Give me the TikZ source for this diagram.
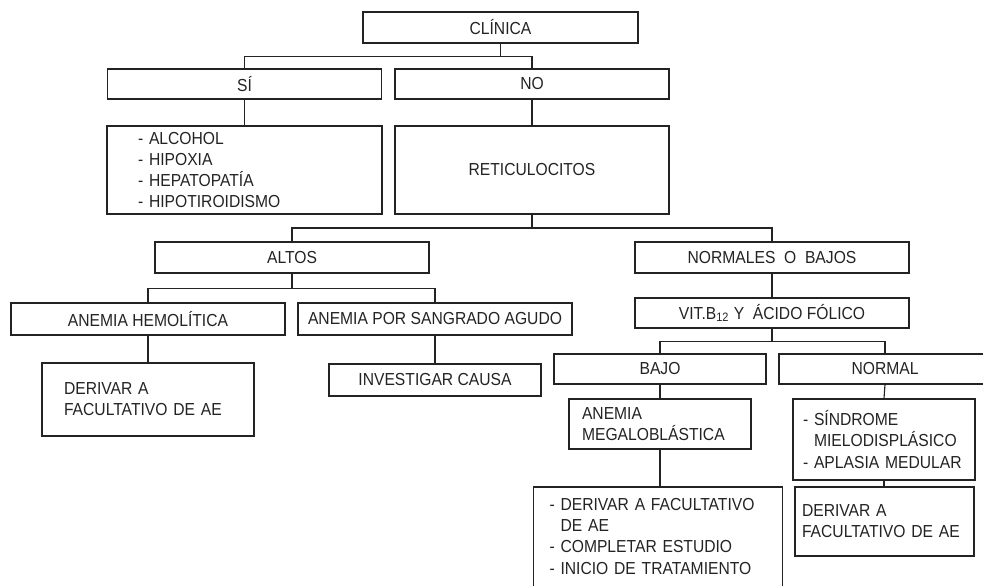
\documentclass[tikz,border=0pt]{standalone}
\usepackage{fontspec}
\setmainfont{Liberation Sans}[FakeStretch=0.9]
\usepackage{tikz}
\definecolor{LineGray}{RGB}{35,35,35}

\begin{document}
\begin{tikzpicture}[x=0.02cm, y=-0.02cm,
  font=\fontsize{9.9pt}{12pt}\selectfont,
  box/.style={draw=LineGray, line width=0.65pt, inner sep=0pt, text=LineGray},
  wide/.style={box, minimum width=5.48cm, minimum height=0.6cm},
  narrow/.style={box, minimum width=4.24cm, minimum height=0.6cm},
  listbox/.style={box, align=left},
  link/.style={draw=LineGray, line width=0.65pt}]

% Frame
\useasboundingbox (0,0) rectangle (983,585);
\clip (0,0) rectangle (983,585);

% Clinical signs
\node[wide, minimum width=5.5cm, minimum height=0.62cm] (clinica) at (500.5,27.5) {CLÍNICA};
\node[wide] (si) at (244.5,84) {SÍ};
\node[wide] (no) at (532,84) {NO};

% Causes and reticulocytes
\node[listbox, minimum height=1.76cm, text width=4.26cm, inner xsep=0.62cm] (causas) at (244.5,170) {- ALCOHOL\\- HIPOXIA\\- HEPATOPATÍA\\- HIPOTIROIDISMO};
\node[wide, minimum height=1.76cm] (reti) at (532,170) {RETICULOCITOS};

% Reticulocytes split
\node[wide, minimum height=0.62cm] (altos) at (292,257.5) {ALTOS};
\node[wide, minimum height=0.62cm] (normales) at (772,257.5) {NORMALES\ \ O\ \ BAJOS};

% High
\node[wide, minimum height=0.64cm] (hemolitica) at (148,319) {ANEMIA HEMOLÍTICA};
\node[wide, minimum height=0.64cm] (sangrado) at (435,319) {ANEMIA POR SANGRADO AGUDO};
\node[listbox, minimum height=1.46cm, text width=3.36cm, inner xsep=0.44cm] (derivarA) at (148,399.5) {DERIVAR A\\FACULTATIVO DE AE};
\node[narrow, minimum height=0.64cm] (investigar) at (435,380) {INVESTIGAR CAUSA};

% Normal or low
\node[wide] (vitamina) at (772,313) {VIT.B\textsubscript{12} Y\ \ ÁCIDO FÓLICO};
\node[narrow] (bajo) at (660,369) {BAJO};
\node[narrow] (normal) at (885,369) {NORMAL};
\node[listbox, minimum height=1cm, text width=3.12cm, inner xsep=0.26cm] (megalo) at (660,424) {ANEMIA\\MEGALOBLÁSTICA};
\node[listbox, minimum height=1.62cm, text width=3.24cm, inner xsep=0.2cm] (sindrome) at (884,439.5) {- SÍNDROME\\\hphantom{- }MIELODISPLÁSICO\\- APLASIA MEDULAR};
\node[listbox, minimum height=2.36cm, text width=4.34cm, inner xsep=0.32cm, text depth=47pt] (tratamiento) at (658,546) {- DERIVAR A FACULTATIVO\\\hphantom{- }DE AE\\- COMPLETAR ESTUDIO\\- INICIO DE TRATAMIENTO};
\node[listbox, minimum height=1.38cm, text width=3.3cm, inner xsep=0.14cm] (derivarB) at (884.5,521.5) {DERIVAR A\\FACULTATIVO DE AE};

% Connectors
\draw[link] (clinica.south) -- ++(0,13) -| (si.north);
\draw[link] (clinica.south) ++(0,13) -| (no.north);
\draw[link] (si.south) -- (causas.north);
\draw[link] (no.south) -- (reti.north);
\draw[link] (reti.south) -- ++(0,13.5) -| (altos.north);
\draw[link] (reti.south) ++(0,13.5) -| (normales.north);
\draw[link] (altos.south) -- ++(0,15) -| (hemolitica.north);
\draw[link] (altos.south) ++(0,15) -| (sangrado.north);
\draw[link] (hemolitica.south) -- (derivarA.north);
\draw[link] (sangrado.south) -- (investigar.north);
\draw[link] (normales.south) -- (vitamina.north);
\draw[link] (vitamina.south) -- ++(0,13) -| (bajo.north);
\draw[link] (vitamina.south) ++(0,13) -| (normal.north);
\draw[link] (bajo.south) -- (megalo.north);
\draw[link] (normal.south) -- (sindrome.north);
\draw[link] (megalo.south) -- (megalo.south |- tratamiento.north);
\draw[link] (sindrome.south) -- (sindrome.south |- derivarB.north);

\end{tikzpicture}
\end{document}
